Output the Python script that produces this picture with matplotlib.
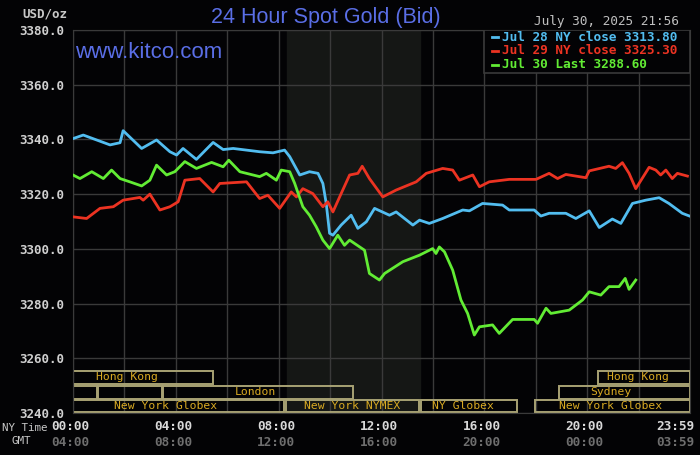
import matplotlib
matplotlib.use("Agg")
import matplotlib.pyplot as plt
from matplotlib.patches import Rectangle
from matplotlib.transforms import blended_transform_factory
from matplotlib.lines import Line2D

# hours after NY midnight -> bid price
jul28_hours = [0.0, 0.40, 1.44, 1.83, 1.95, 2.67, 3.25, 3.77, 4.03, 4.28, 4.80, 5.45, 5.84,
               6.23, 7.26, 7.78, 8.23, 8.43, 8.82, 9.20, 9.53, 9.72, 9.85, 9.98, 10.11, 10.43,
               10.82, 11.08, 11.41, 11.73, 12.31, 12.57, 13.22, 13.48, 13.86, 14.38, 15.16,
               15.42, 15.93, 16.71, 16.97, 17.94, 18.20, 18.52, 19.17, 19.56, 20.08, 20.47,
               20.98, 21.31, 21.76, 22.28, 22.80, 23.18, 23.70, 23.98]
jul28_price = [3340.3, 3341.6, 3338.0, 3338.8, 3343.2, 3336.7, 3339.8, 3335.5, 3334.3, 3336.7,
               3332.7, 3338.9, 3336.3, 3336.7, 3335.5, 3335.1, 3336.1, 3333.7, 3327.0, 3328.2,
               3327.6, 3323.9, 3316.6, 3305.7, 3305.0, 3308.7, 3312.3, 3307.5, 3309.9, 3314.8,
               3312.3, 3313.5, 3308.7, 3310.5, 3309.3, 3311.1, 3314.2, 3313.9, 3316.6, 3316.0,
               3314.2, 3314.2, 3312.0, 3313.0, 3313.0, 3311.1, 3313.9, 3307.8, 3310.9, 3309.3,
               3316.6, 3317.8, 3318.7, 3316.6, 3313.0, 3312.0]

jul29_hours = [0.0, 0.53, 1.05, 1.57, 1.95, 2.60, 2.73, 2.99, 3.38, 3.77, 4.09, 4.35, 4.93,
               5.45, 5.71, 6.75, 7.26, 7.58, 8.04, 8.49, 8.69, 8.94, 9.33, 9.72, 9.91, 10.11,
               10.43, 10.76, 11.08, 11.25, 11.53, 12.05, 12.57, 13.35, 13.74, 14.38, 14.77,
               15.03, 15.55, 15.81, 16.19, 16.97, 18.01, 18.52, 18.85, 19.17, 19.95, 20.08,
               20.85, 21.11, 21.37, 21.63, 21.89, 22.41, 22.67, 22.86, 23.06, 23.31, 23.51, 23.90]
jul29_price = [3311.7, 3311.1, 3314.8, 3315.4, 3317.8, 3318.8, 3317.8, 3320.0, 3314.2, 3315.4,
               3317.2, 3325.1, 3325.7, 3320.8, 3323.9, 3324.5, 3318.4, 3319.6, 3314.8, 3320.8,
               3319.0, 3322.0, 3320.2, 3315.4, 3317.2, 3313.5, 3320.2, 3327.0, 3327.6, 3330.2,
               3325.7, 3319.0, 3321.5, 3324.5, 3327.6, 3329.4, 3328.8, 3325.1, 3327.0, 3322.7,
               3324.5, 3325.4, 3325.4, 3327.6, 3325.7, 3327.2, 3326.0, 3328.5, 3330.2, 3329.4,
               3331.5, 3327.6, 3322.0, 3329.8, 3328.8, 3327.0, 3328.8, 3325.7, 3327.6, 3326.6]

jul30_hours = [0.0, 0.27, 0.73, 1.18, 1.50, 1.83, 2.21, 2.67, 2.99, 3.25, 3.64, 3.96, 4.35,
               4.80, 5.39, 5.84, 6.06, 6.49, 7.26, 7.52, 7.91, 8.10, 8.43, 8.62, 8.94, 9.20,
               9.46, 9.72, 9.98, 10.30, 10.56, 10.76, 11.34, 11.53, 11.92, 12.12, 12.83, 13.48,
               13.99, 14.12, 14.25, 14.45, 14.77, 15.09, 15.35, 15.61, 15.81, 16.32, 16.58,
               17.10, 17.94, 18.07, 18.40, 18.59, 19.30, 19.82, 20.08, 20.53, 20.85, 21.24,
               21.48, 21.63, 21.89]
jul30_price = [3327.0, 3325.7, 3328.2, 3325.7, 3328.8, 3325.7, 3324.5, 3323.0, 3325.1, 3330.6,
               3327.0, 3328.2, 3331.9, 3329.4, 3331.6, 3330.0, 3332.4, 3328.2, 3326.4, 3327.6,
               3325.1, 3328.8, 3328.2, 3324.0, 3315.4, 3312.3, 3308.1, 3303.2, 3300.1, 3305.0,
               3301.3, 3303.2, 3299.5, 3291.0, 3288.6, 3291.0, 3295.3, 3297.7, 3300.1, 3298.3,
               3300.7, 3298.9, 3292.2, 3281.3, 3276.4, 3268.5, 3271.5, 3272.2, 3269.1, 3274.2,
               3274.2, 3272.8, 3278.3, 3276.4, 3277.6, 3281.3, 3284.3, 3283.1, 3286.2, 3286.2,
               3289.2, 3285.2, 3288.6]

series_labels = ["Jul 28 NY close 3313.80", "Jul 29 NY close 3325.30", "Jul 30 Last 3288.60"]
series_colors = ["#52bdf0", "#ec3322", "#62ec34"]

ny_ticks = ["00:00", "04:00", "08:00", "12:00", "16:00", "20:00", "23:59"]
gmt_ticks = ["04:00", "08:00", "12:00", "16:00", "20:00", "00:00", "03:59"]
tick_hours = [0, 4, 8, 12, 16, 20, 23.98]

# trading sessions: (start hour, end hour)
row1_boxes = [(0.0, 5.44), (20.43, 24.0)]
row2_boxes = [(0.0, 0.93), (0.97, 3.46), (3.50, 10.91), (18.90, 24.0)]
row3_boxes = [(0.0, 8.20), (8.27, 13.44), (13.52, 17.27), (17.97, 24.0)]
session_labels = [("Hong Kong", 2.10, 0), ("Hong Kong", 21.99, 0), ("London", 7.11, 1),
                  ("Sydney", 20.92, 1), ("New York Globex", 3.61, 2), ("New York NYMEX", 10.86, 2),
                  ("NY Globex", 15.16, 2), ("New York Globex", 20.92, 2)]
nymex_hours = (8.33, 13.5)

BG = "#030305"
GRID = "#3a3a3a"
BOX = "#a8a274"
GOLD = "#d9aa22"
BLUE_TXT = "#5a6ee6"
MONO = "DejaVu Sans Mono"

fig = plt.figure(figsize=(7, 4.55), dpi=100)
fig.patch.set_facecolor(BG)
ax = fig.add_axes([73 / 700, 42 / 455, 617 / 700, 383 / 455])
ax.set_facecolor(BG)
ax.set_xlim(0, 24)
ax.set_ylim(3240, 3380)

ax.axvspan(*nymex_hours, color="#151715", zorder=0)

ax.set_xticks(range(0, 25, 2))
ax.set_xticklabels([])
ax.set_yticks(range(3240, 3381, 20))
ax.set_yticklabels([f"{v:.1f}" for v in range(3240, 3381, 20)], fontfamily=MONO,
                   fontsize=9, fontweight="bold", color="#d0d0d0")
ax.tick_params(length=0, pad=6)
ax.grid(color=GRID, lw=1, zorder=1)
for sp in ax.spines.values():
    sp.set_color(GRID)

# session boxes
row_y = [(3250.6, 3255.4), (3245.2, 3250.0), (3240.3, 3244.6)]
for r, boxes in enumerate([row1_boxes, row2_boxes, row3_boxes]):
    y0, y1 = row_y[r]
    for s, e in boxes:
        ax.add_patch(Rectangle((s, y0), e - s, y1 - y0, fill=False, ec=BOX, lw=1.4, zorder=2))
for name, hx, r in session_labels:
    y0, y1 = row_y[r]
    ax.text(hx, (y0 + y1) / 2, name, ha="center", va="center", fontfamily=MONO,
            fontsize=8.2, color=GOLD, zorder=3)

# price lines
for hrs, px, col in [(jul28_hours, jul28_price, series_colors[0]),
                     (jul29_hours, jul29_price, series_colors[1]),
                     (jul30_hours, jul30_price, series_colors[2])]:
    ax.plot(hrs, px, color=col, lw=2, zorder=4)

# legend box
ax.add_patch(Rectangle((0.666, 0.887), 0.334, 0.113, transform=ax.transAxes, fc=BG,
                       ec=GRID, lw=1.2, zorder=5))
leg_y = [37.3, 50.7, 64.7]
for lbl, col, yp in zip(series_labels, series_colors, leg_y):
    yf = 1 - yp / 455
    fig.add_artist(Line2D([492 / 700, 498 / 700], [yf, yf], color=col, lw=2, zorder=6))
    fig.text(502 / 700, yf, lbl, ha="left", va="center", fontfamily=MONO, fontsize=9.2,
             fontweight="bold", color=col, zorder=6)

# time axis labels
trans = blended_transform_factory(ax.transData, fig.transFigure)
for h, ny, gmt in zip(tick_hours, ny_ticks, gmt_ticks):
    ha = "right" if h > 23 else "center"
    xh = h + 0.2 if h > 23 else h - 0.1
    ax.text(xh, 1 - 426 / 455, ny, transform=trans, ha=ha, va="center", fontfamily=MONO,
            fontsize=9.2, fontweight="bold", color="#d8d8d8")
    ax.text(xh, 1 - 442 / 455, gmt, transform=trans, ha=ha, va="center", fontfamily=MONO,
            fontsize=9.2, fontweight="bold", color="#6e6e6e")
fig.text(2 / 700, 1 - 428 / 455, "NY Time", ha="left", va="center", fontfamily=MONO,
         fontsize=7.8, color="#c8c8c8")
fig.text(11 / 700, 1 - 441 / 455, "GMT", ha="left", va="center", fontfamily=MONO,
         fontsize=7.8, color="#c8c8c8")

fig.text(67 / 700, 1 - 14 / 455, "USD/oz", ha="right", va="center", fontfamily=MONO,
         fontsize=9, fontweight="bold", color="#c8c8c8")
fig.text(326 / 700, 1 - 17 / 455, "24 Hour Spot Gold (Bid)", ha="center", va="center",
         fontfamily="Liberation Sans", fontsize=15.5, color=BLUE_TXT)
fig.text(75 / 700, 1 - 53 / 455, "www.kitco.com", ha="left", va="center",
         fontfamily="Liberation Sans", fontsize=16, color=BLUE_TXT)
fig.text(679 / 700, 1 - 22 / 455, "July 30, 2025 21:56", ha="right", va="center",
         fontfamily=MONO, fontsize=9.2, color="#c0c0c0")

fig.savefig("out.png", dpi=100, facecolor=fig.get_facecolor())
